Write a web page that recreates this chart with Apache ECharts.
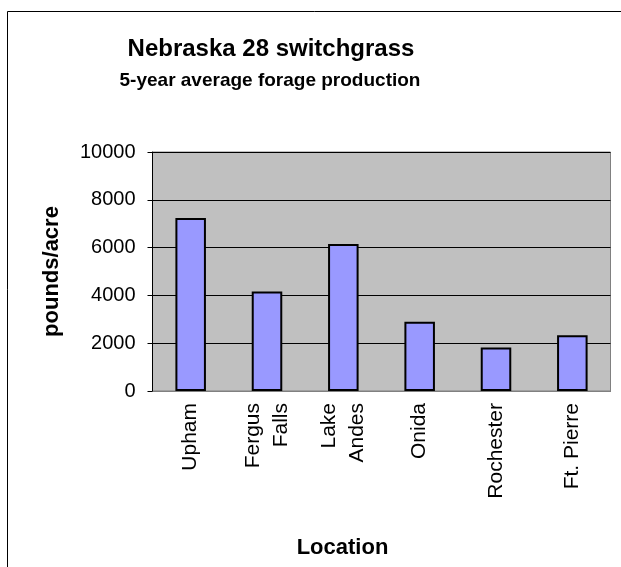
<!DOCTYPE html>
<html>
<head>
<meta charset="utf-8">
<script src="https://cdn.jsdelivr.net/npm/echarts@6/dist/echarts.min.js"></script>
<style>
html,body{margin:0;padding:0;background:#fff;}
#chart{width:621px;height:567px;}
</style>
</head>
<body>
<div id="chart"></div>
<script>
var categories = ['Upham', 'Fergus\nFalls', 'Lake\nAndes', 'Onida', 'Rochester', 'Ft. Pierre'];
var production = [7240, 4160, 6150, 2900, 1820, 2330];
var yTicks = [0, 2000, 4000, 6000, 8000, 10000];
var titleText = 'Nebraska 28 switchgrass';
var subtitleText = '5-year average forage production';
var yName = 'pounds/acre';
var xName = 'Location';

var FONT = '"Liberation Sans", Arial, sans-serif';
var chart = echarts.init(document.getElementById('chart'), null, {renderer: 'canvas'});
chart.setOption({
  backgroundColor: '#ffffff',
  animation: false,
  graphic: [
    {type: 'rect', shape: {x: 7.5, y: 11.5, width: 700, height: 700}, style: {fill: 'none', stroke: '#000', lineWidth: 1}, silent: true},
    {type: 'text', x: 271, y: 49, style: {text: titleText, font: 'bold 24px ' + FONT, fill: '#000', textAlign: 'center', textVerticalAlign: 'middle'}},
    {type: 'text', x: 270, y: 81, style: {text: subtitleText, font: 'bold 19px ' + FONT, fill: '#000', textAlign: 'center', textVerticalAlign: 'middle'}},
    {type: 'text', x: 342.5, y: 548, style: {text: xName, font: 'bold 22px ' + FONT, fill: '#000', textAlign: 'center', textVerticalAlign: 'middle'}}
  ],
  grid: {left: 152.5, right: 10.5, top: 152, bottom: 176, show: true, backgroundColor: '#c0c0c0', borderColor: '#808080', borderWidth: 1},
  xAxis: {
    type: 'category',
    data: categories,
    axisLine: {lineStyle: {color: '#808080', width: 1}},
    axisTick: {show: false},
    axisLabel: {rotate: 90, margin: 12, fontSize: 21, fontFamily: FONT, color: '#000', lineHeight: 28, interval: 0}
  },
  yAxis: {
    type: 'value',
    min: 0, max: 10000, interval: 2000,
    name: yName,
    nameLocation: 'middle',
    nameGap: 90,
    nameTextStyle: {fontSize: 22, fontWeight: 'bold', fontFamily: FONT, color: '#000'},
    axisLine: {show: true, lineStyle: {color: '#000', width: 1}},
    axisTick: {show: true, length: 5, lineStyle: {color: '#000'}},
    axisLabel: {margin: 17, fontSize: 20, fontFamily: FONT, color: '#000',
      formatter: function (v) { return yTicks.indexOf(v) >= 0 ? String(v) : ''; }},
    splitLine: {show: true, lineStyle: {color: '#000', width: 1}}
  },
  series: [{
    type: 'bar',
    data: production,
    barWidth: '40%',
    itemStyle: {color: '#9999ff', borderColor: '#000', borderWidth: 2}
  }]
});
</script>
</body>
</html>
